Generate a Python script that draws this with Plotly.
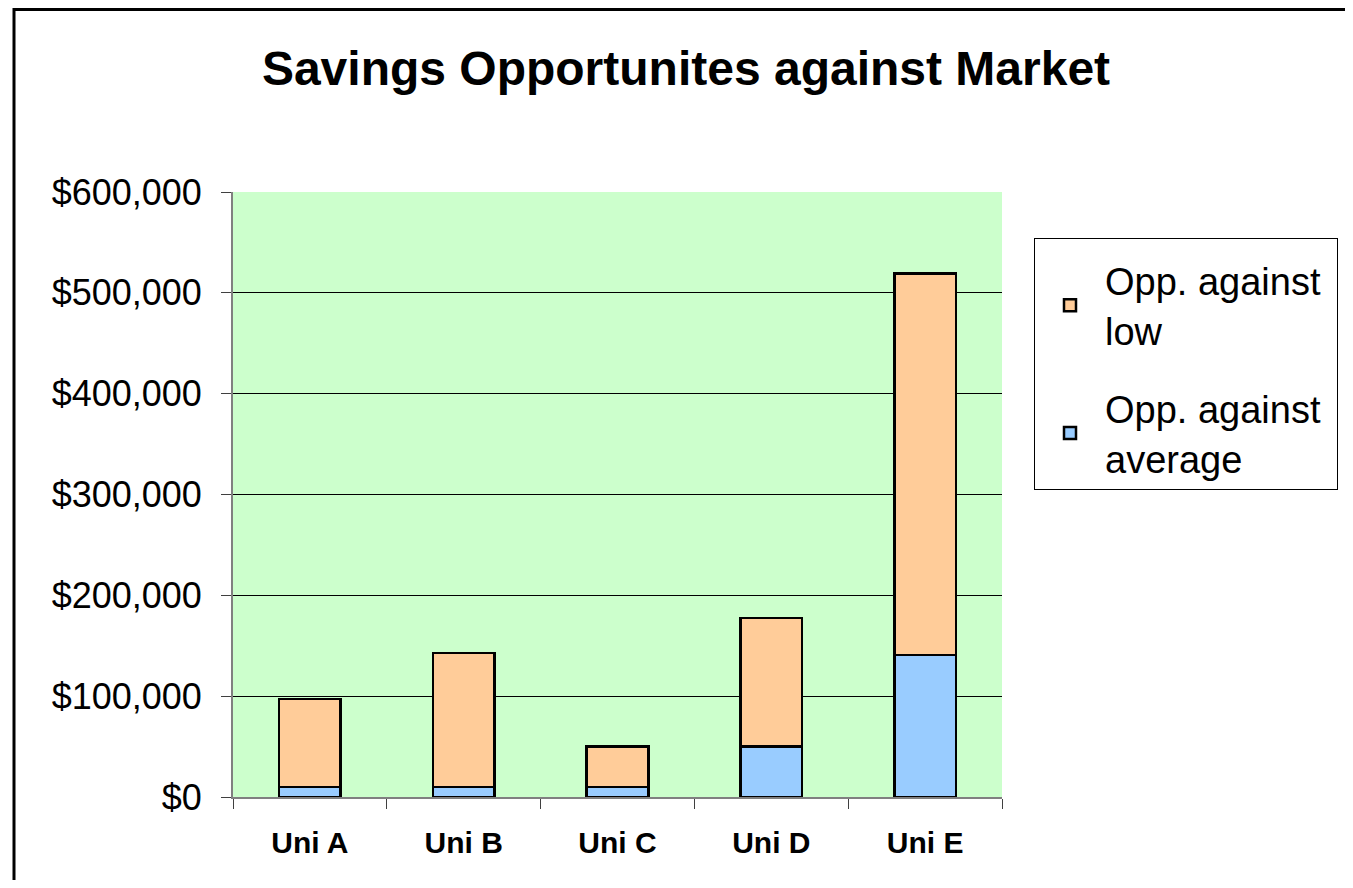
import plotly.graph_objects as go

categories = ["Uni A", "Uni B", "Uni C", "Uni D", "Uni E"]
opp_average = [10000, 10000, 10000, 50000, 141000]
opp_low = [87000, 133000, 40000, 127500, 378000]
y_ticks = [0, 100000, 200000, 300000, 400000, 500000, 600000]

# page has an 8px body margin; work in screen pixels and convert
OFF = 8
W, H = 1353 - 2 * OFF, 888 - 2 * OFF
ML, MT = 233 - OFF, 192 - OFF
MR = W - (1002 - OFF)
MB = H - (797 - OFF)
PW = W - ML - MR
PH = H - MT - MB

def px_x(x):
    return (x - OFF - ML) / PW

def px_y(y):
    return (H - MB - (y - OFF)) / PH

FONT = "Liberation Sans, Arial, sans-serif"
PAD = "\u00a0"

fig = go.Figure()
fig.add_trace(go.Bar(
    x=categories, y=opp_average, name="Opp. against" + PAD + "<br>average",
    marker=dict(color="#99CCFF", line=dict(color="black", width=2.5)),
    width=0.4, legendgroup="a", legendrank=2,
))
fig.add_trace(go.Bar(
    x=categories, y=opp_low, name="Opp. against" + PAD + "<br>low",
    marker=dict(color="#FFCC99", line=dict(color="black", width=2.5)),
    width=0.4, legendgroup="b", legendrank=1,
))

fig.update_layout(
    width=W, height=H,
    barmode="stack",
    margin=dict(l=ML, r=MR, t=MT, b=MB, autoexpand=False),
    paper_bgcolor="white",
    plot_bgcolor="#CCFFCC",
    font=dict(family=FONT, color="black"),
    title=dict(
        text="<b>Savings Opportunites against Market</b>",
        font=dict(size=48, family=FONT, color="black"),
        x=(686 - OFF) / W, xref="container", xanchor="center",
        y=1 - (68 - OFF) / H, yref="container", yanchor="middle",
    ),
    legend=dict(
        x=px_x(1034), y=px_y(238), xanchor="left", yanchor="top",
        bordercolor="black", borderwidth=1, bgcolor="white",
        font=dict(size=38, family=FONT, color="black"),
        traceorder="grouped", tracegroupgap=26,
        itemwidth=60,
        title=dict(text="&nbsp;", font=dict(size=8)),
    ),
    showlegend=True,
    shapes=[dict(
        type="rect", xref="paper", yref="paper",
        x0=px_x(14), x1=px_x(1370), y0=px_y(905), y1=px_y(9.5),
        line=dict(color="black", width=3), fillcolor="rgba(0,0,0,0)",
        layer="above",
    )],
)

fig.update_yaxes(
    range=[0, 600000], tickvals=y_ticks, tickformat="$,.0f",
    showgrid=True, gridcolor="black", gridwidth=1,
    showline=True, linecolor="#808080", linewidth=2,
    ticks="outside", ticklen=10, tickcolor="#404040", tickwidth=1,
    tickfont=dict(size=36, family=FONT, color="black"),
    ticklabelstandoff=12, zeroline=False,
)
fig.update_xaxes(
    showgrid=False,
    showline=True, linecolor="#808080", linewidth=2,
    ticks="outside", ticklen=10, tickcolor="#404040", tickwidth=1,
    tickson="boundaries",
    tickfont=dict(size=30, family=FONT, color="black", weight="bold"),
    ticklabelstandoff=18,
)

fig.write_html("out.html")
